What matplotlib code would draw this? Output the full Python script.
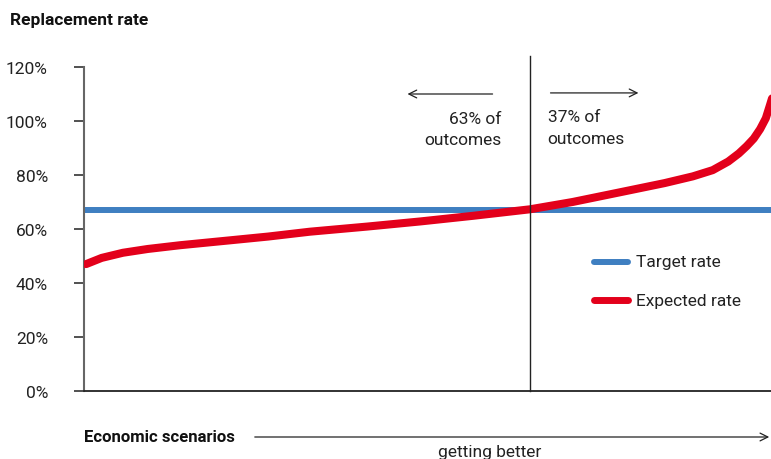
import numpy as np
import matplotlib.pyplot as plt
from matplotlib.patches import FancyArrowPatch

plt.rcParams['font.family'] = ['Roboto', 'DejaVu Sans']

# scenarios ranked from worst to best (percentile of outcomes)
scenario_pct = [0.3, 2.5, 5.5, 9.0, 13.6, 20.6, 26.0, 31.9, 40.0, 47.5, 55.0, 63.0,
                69.0, 75.7, 82.0, 86.0, 88.8, 91.0, 92.5, 93.6, 94.6, 95.5, 96.3, 96.9, 97.6]
expected_rate = [47.0, 49.3, 51.2, 52.6, 54.0, 55.8, 57.2, 59.0, 60.9, 62.8, 64.9, 67.3,
                 70.0, 73.6, 77.0, 79.5, 81.8, 85.0, 88.0, 90.7, 93.5, 97.0, 101.0, 106.0, 112.0]
target_rate = 67.0
share_below = 63
yticks = [0, 20, 40, 60, 80, 100, 120]

blue = '#3f7fc1'
red = '#e3001b'
ink = '#222222'

fig = plt.figure(figsize=(7.71, 4.60), dpi=100)
ax = fig.add_axes([84 / 771, 68 / 460, 708 / 771, 324 / 460])

ax.axhline(target_rate, color=blue, lw=4.3, solid_capstyle='butt', zorder=2)
ax.plot(scenario_pct, expected_rate, color=red, lw=5.8, solid_capstyle='round',
        solid_joinstyle='round', zorder=3)

ax.set_xlim(0, 100)
ax.set_ylim(0, 120)
ax.set_yticks(yticks)
ax.set_yticklabels([f'{t}%' for t in yticks], fontsize=12.5, color=ink)
ax.set_xticks([])
for side in ['top', 'right']:
    ax.spines[side].set_visible(False)
ax.spines['left'].set_color('#666666')
ax.spines['left'].set_linewidth(1.5)
ax.spines['bottom'].set_color(ink)
ax.spines['bottom'].set_linewidth(1.3)
ax.tick_params(axis='y', length=7, width=1.2, color='#333333', pad=19)

# split between worse and better outcomes
ax.plot([share_below, share_below], [0, 124], color=ink, lw=1.0, clip_on=False, zorder=4)

ax.annotate('', xy=(45.3, 110), xytext=(58.1, 110),
            arrowprops=dict(arrowstyle='->', lw=0.9, color=ink, mutation_scale=14))
ax.annotate('', xy=(78.7, 110.4), xytext=(65.5, 110.4),
            arrowprops=dict(arrowstyle='->', lw=0.9, color=ink, mutation_scale=14))
ax.text(59.0, 97.0, f'{share_below}% of\noutcomes', ha='right', va='center', ma='right',
        fontsize=12.5, color=ink, linespacing=1.55)
ax.text(65.5, 97.7, f'{100 - share_below}% of\noutcomes', ha='left', va='center', ma='left',
        fontsize=12.5, color=ink, linespacing=1.55)

# legend
ax.plot([72.0, 76.8], [47.8, 47.8], color=blue, lw=4.3, solid_capstyle='round')
ax.text(78.0, 47.8, 'Target rate', va='center', fontsize=12.5, color=ink)
ax.plot([72.0, 76.8], [33.7, 33.7], color=red, lw=5.0, solid_capstyle='round')
ax.text(78.0, 33.7, 'Expected rate', va='center', fontsize=12.5, color=ink)

fig.text(10 / 771, 1 - 20 / 460, 'Replacement rate', fontsize=12.5, fontweight='bold',
         va='center', color='#111111')
fig.text(84 / 771, 1 - 438 / 460, 'Economic scenarios', fontsize=12, fontweight='bold',
         va='center', color='#111111')
fig.add_artist(FancyArrowPatch(
    (252 / 771, 1 - 438 / 460), (772 / 771, 1 - 438 / 460), transform=fig.transFigure,
    arrowstyle='->', lw=0.9, color=ink, mutation_scale=14))
fig.text(490 / 771, 1 - 453 / 460, 'getting better', fontsize=12.5, ha='center',
         va='center', color=ink)

fig.savefig('out.png', dpi=100)
